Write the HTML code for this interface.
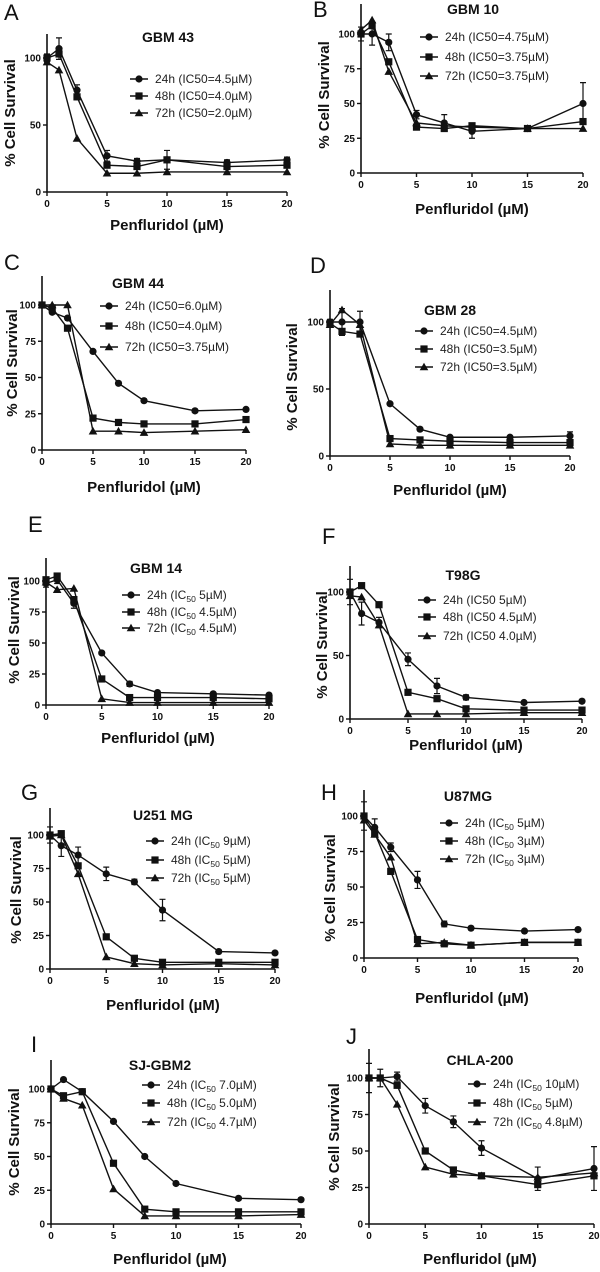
<!DOCTYPE html>
<html><head><meta charset="utf-8"><style>
html,body{margin:0;padding:0;background:#fff;}
svg{display:block;font-family:"Liberation Sans",Arial,sans-serif;}
</style></head><body>
<svg id="fig" width="600" height="1272" viewBox="0 0 600 1272" xmlns="http://www.w3.org/2000/svg"></svg>
<script>
const doses = [0,1,2.5,5,7.5,10,15,20];
const xTicks = [0,5,10,15,20];
const seriesNames = ["24h","48h","72h"];
// Panel data (% cell survival)
const A24=[100,107,76,27,23,24,22,24], A48=[100,103,71,20,19,24,19,20], A72=[97,91,40,14,14,15,15,15];
const B24=[100,100,94,42,36,30,32,50], B48=[100,106,80,33,32,34,32,37], B72=[103,110,73,36,34,33,32,32];
const C24=[100,95,91,68,46,34,27,28], C48=[100,98,84,22,19,18,18,21], C72=[100,100,100,13,13,12,13,14];
const D24=[100,100,100,39,20,14,14,15], D48=[99,93,91,13,12,11,10,10], D72=[98,109,98,9,8,8,8,8];
const E24=[98,101,82,42,17,10,9,8], E48=[101,104,85,21,6,6,6,5], E72=[99,93,94,5,2,2,2,2];
const F24=[100,83,76,47,26,17,13,14], F48=[100,105,90,21,16,8,7,7], F72=[97,96,74,4,4,4,5,5];
const G24=[100,92,85,71,65,44,13,12], G48=[100,101,77,24,8,5,5,5], G72=[99,100,71,9,4,3,4,3];
const H24=[100,92,78,55,24,21,19,20], H48=[100,88,61,13,10,9,11,11], H72=[97,87,71,10,11,9,11,11];
const I24=[100,107,98,76,50,30,19,18], I48=[100,95,98,45,11,9,9,9], I72=[100,93,88,26,6,6,6,7];
const J24=[100,100,101,81,70,52,31,38], J48=[100,100,95,50,37,33,27,33], J72=[100,100,82,39,34,33,32,35];
// error bar half-widths (% units) for the 24h series
const AE=[3,8,4,4,2,7,2,2], BE=[5,8,6,3,6,5,1,15], CE=[1,1,1,1,1,1,1,1], DE=[2,10,8,1,1,1,1,3];
const EE=[3,3,4,1,2,1,1,1], FE=[10,9,4,5,6,2,1,1], GE=[6,8,6,5,2,8,1,1], HE=[10,6,3,6,2,1,1,1];
const IE=[1,1,1,1,1,1,1,1], JE=[10,6,3,5,4,5,8,15];
const legends = {
A:["24h (IC50=4.5µM)","48h (IC50=4.0µM)","72h (IC50=2.0µM)"],
B:["24h (IC50=4.75µM)","48h (IC50=3.75µM)","72h (IC50=3.75µM)"],
C:["24h (IC50=6.0µM)","48h (IC50=4.0µM)","72h (IC50=3.75µM)"],
D:["24h (IC50=4.5µM)","48h (IC50=3.5µM)","72h (IC50=3.5µM)"],
E:[["24h (IC","5µM)"],["48h (IC","4.5µM)"],["72h (IC","4.5µM)"]],
F:["24h (IC50 5µM)","48h (IC50 4.5µM)","72h (IC50 4.0µM)"],
G:[["24h (IC","9µM)"],["48h (IC","5µM)"],["72h (IC","5µM)"]],
H:[["24h (IC","5µM)"],["48h (IC","3µM)"],["72h (IC","3µM)"]],
I:[["24h (IC","7.0µM)"],["48h (IC","5.0µM)"],["72h (IC","4.7µM)"]],
J:[["24h (IC","10µM)"],["48h (IC","5µM)"],["72h (IC","4.8µM)"]]
};
const panels = [
{id:"A",title:"GBM 43",d:[A24,A48,A72],e:AE,x0:47,x20:287,y0:192,y100:58,top:34,yt:[0,50,100],tx:168,ty:42,lx:130,ly:[79,96,113],xl:[167,230],yl:[10,113],L:[4,20]},
{id:"B",title:"GBM 10",d:[B24,B48,B72],e:BE,x0:361,x20:583,y0:173,y100:34,top:4,yt:[0,25,50,75,100],tx:473,ty:14,lx:420,ly:[37,57,76],xl:[472,214],yl:[324,95],L:[313,17]},
{id:"C",title:"GBM 44",d:[C24,C48,C72],e:CE,x0:42,x20:246,y0:450,y100:305,top:276,yt:[0,25,50,75,100],tx:138,ty:288,lx:100,ly:[306,326,347],xl:[144,492],yl:[12,363],L:[4,270]},
{id:"D",title:"GBM 28",d:[D24,D48,D72],e:DE,x0:330,x20:570,y0:456,y100:322,top:290,yt:[0,50,100],tx:450,ty:315,lx:415,ly:[331,349,367],xl:[450,495],yl:[292,377],L:[310,273]},
{id:"E",title:"GBM 14",d:[E24,E48,E72],e:EE,x0:46,x20:269,y0:705,y100:581,top:558,yt:[0,25,50,75,100],tx:156,ty:573,lx:122,ly:[595,612,628],xl:[158,743],yl:[14,630],L:[28,532]},
{id:"F",title:"T98G",d:[F24,F48,F72],e:FE,x0:350,x20:582,y0:719,y100:592,top:566,yt:[0,50,100],tx:463,ty:580,lx:418,ly:[600,617,636],xl:[466,750],yl:[322,645],L:[322,544]},
{id:"G",title:"U251 MG",d:[G24,G48,G72],e:GE,x0:50,x20:275,y0:969,y100:835,top:808,yt:[0,25,50,75,100],tx:163,ty:820,lx:146,ly:[841,860,878],xl:[163,1010],yl:[16,890],L:[21,800]},
{id:"H",title:"U87MG",d:[H24,H48,H72],e:HE,x0:364,x20:578,y0:958,y100:816,top:790,yt:[0,25,50,75,100],tx:468,ty:801,lx:440,ly:[823,841,859],xl:[472,1003],yl:[330,888],L:[321,800]},
{id:"I",title:"SJ-GBM2",d:[I24,I48,I72],e:IE,x0:51,x20:301,y0:1224,y100:1089,top:1060,yt:[0,25,50,75,100],tx:160,ty:1070,lx:142,ly:[1085,1103,1122],xl:[170,1264],yl:[14,1142],L:[31,1052]},
{id:"J",title:"CHLA-200",d:[J24,J48,J72],e:JE,x0:369,x20:594,y0:1224,y100:1078,top:1049,yt:[0,25,50,75,100],tx:480,ty:1065,lx:468,ly:[1084,1103,1122],xl:[480,1264],yl:[334,1137],L:[346,1044]}
];
const NS="http://www.w3.org/2000/svg";
const svg=document.getElementById("fig");
function mk(tag,attrs,parent){const el=document.createElementNS(NS,tag);for(const k in attrs)el.setAttribute(k,attrs[k]);parent.appendChild(el);return el;}
function marker(g,k,x,y){
  let m;
  if(k===0) m=mk("circle",{cx:x,cy:y,r:3.6,fill:"#111"},g);
  else if(k===1) m=mk("rect",{x:x-3.6,y:y-3.6,width:7.2,height:7.2,fill:"#111"},g);
  else m=mk("polygon",{points:`${x},${y-4.3} ${x-4.3},${y+3.3} ${x+4.3},${y+3.3}`,fill:"#111"},g);
  return m;
}
panels.forEach(p=>{
  const g=mk("g",{},svg);
  
  
  const sx=v=>p.x0+(p.x20-p.x0)*v/20;
  const sy=v=>p.y0-(p.y0-p.y100)*v/100;
  const letter=mk("text",{x:p.L[0],y:p.L[1],"font-size":22,fill:"#111"},g);letter.textContent=p.id;
  
  
  const ax=mk("path",{d:`M${p.x0},${p.top}V${p.y0}H${p.x20}`,stroke:"#111","stroke-width":1.6,fill:"none"},g);
  
  
  p.yt.forEach(t=>{const y=sy(t);mk("line",{x1:p.x0-4,x2:p.x0,y1:y,y2:y,stroke:"#111","stroke-width":1.4},g);
    const tl=mk("text",{x:p.x0-6,y:y+3.5,"font-size":10,"font-weight":"bold","text-anchor":"end",fill:"#111"},g);tl.textContent=t;
    
    });
  xTicks.forEach(t=>{const x=sx(t);mk("line",{x1:x,x2:x,y1:p.y0,y2:p.y0+4,stroke:"#111","stroke-width":1.4},g);
    const tl=mk("text",{x:x,y:p.y0+15,"font-size":10,"font-weight":"bold","text-anchor":"middle",fill:"#111"},g);tl.textContent=t;
    
    });
  const title=mk("text",{x:p.tx,y:p.ty,"font-size":14,"font-weight":"bold","text-anchor":"middle",fill:"#111"},g);title.textContent=p.title;
  
  
  const xl=mk("text",{x:p.xl[0],y:p.xl[1],"font-size":15,"font-weight":"bold","text-anchor":"middle",fill:"#111"},g);xl.textContent="Penfluridol (µM)";
  
  
  const yl=mk("text",{x:0,y:0,"font-size":15,"font-weight":"bold","text-anchor":"middle",transform:`translate(${p.yl[0]+5},${p.yl[1]}) rotate(-90)`,fill:"#111"},g);yl.textContent="% Cell Survival";
  
  
  p.d.forEach((vals,k)=>{
    const sg=mk("g",{},g);
    
    
    mk("polyline",{points:vals.map((v,i)=>sx(doses[i])+","+sy(v)).join(" "),fill:"none",stroke:"#111","stroke-width":1.4},sg);
    vals.forEach((v,i)=>{
      if(k===0){const er=p.e[i];const x=sx(doses[i]);
        mk("path",{d:`M${x},${sy(v+er)}V${sy(v-er)}M${x-3},${sy(v+er)}H${x+3}M${x-3},${sy(v-er)}H${x+3}`,stroke:"#111","stroke-width":1.2,fill:"none"},sg);}
      const m=marker(sg,k,sx(doses[i]),sy(v));
      
      
    });
  });
  const lg=mk("g",{},g);
  
  
  legends[p.id].forEach((lab,k)=>{
    const y=p.ly[k];
    mk("line",{x1:p.lx,x2:p.lx+18,y1:y,y2:y,stroke:"#111","stroke-width":1.4},lg);
    marker(lg,k,p.lx+9,y);
    const t=mk("text",{x:p.lx+25,y:y+4,"font-size":12,fill:"#222"},lg);
    
    
    if(Array.isArray(lab)){
      t.appendChild(document.createTextNode(lab[0]));
      const s=mk("tspan",{"font-size":8.5,dy:3},t);s.textContent="50";
      const r=mk("tspan",{dy:-3},t);r.textContent=" "+lab[1];
    } else t.textContent=lab;
  });
});
</script>
</body></html>
